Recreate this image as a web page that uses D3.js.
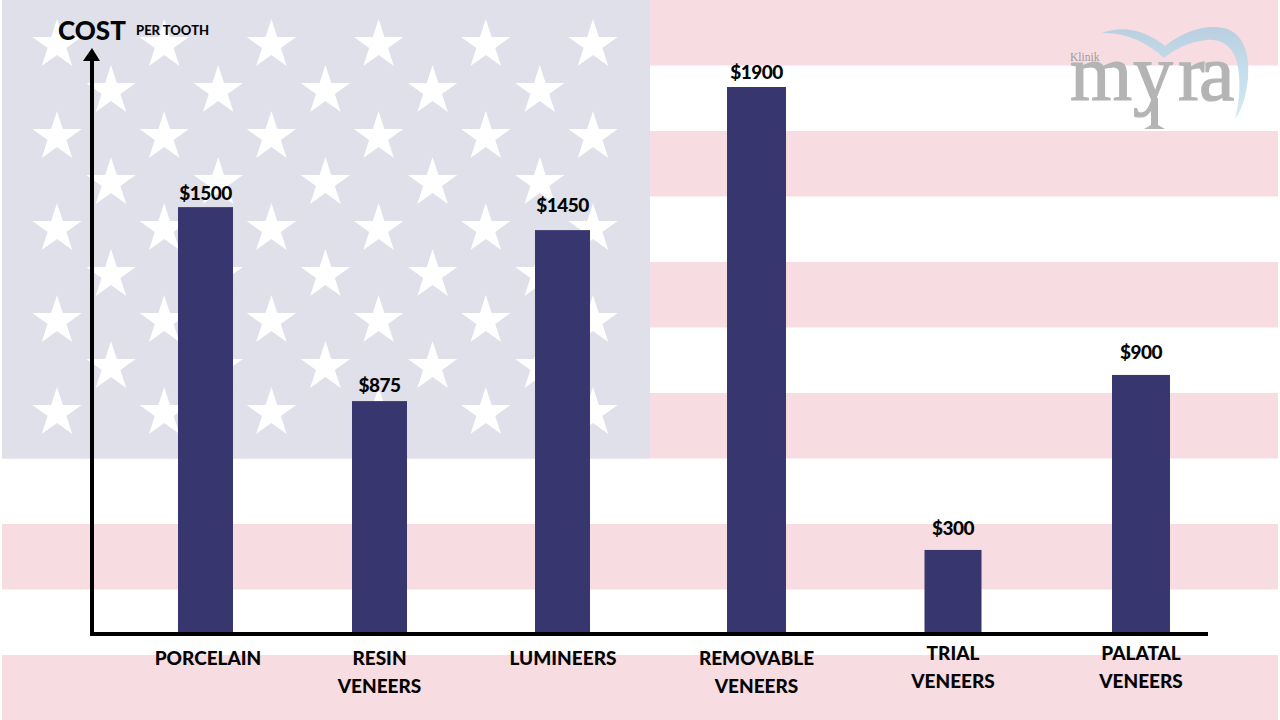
<!DOCTYPE html>
<html>
<head>
<meta charset="utf-8">
<script src="https://cdn.jsdelivr.net/npm/d3@7"></script>
<style>
  html, body { margin: 0; padding: 0; background: #fff; }
  svg { display: block; }
  text { font-family: "Lato", sans-serif; fill: #050505; }
</style>
</head>
<body>
<div id="chart"></div>
<script>
// Chart data
const categories = ["PORCELAIN", "RESIN VENEERS", "LUMINEERS", "REMOVABLE VENEERS", "TRIAL VENEERS", "PALATAL VENEERS"];
const costLabels = [1500, 875, 1450, 1900, 300, 900];
// the bars in the picture are not quite to scale, so this is what each one measures
const barHeights = [1482, 807, 1402, 1900, 289, 898];

const width = 1280;
const height = 720;

const svg = d3.select("#chart").append("svg")
    .attr("width", width)
    .attr("height", height);

// Scales, the spacing of the original is hand placed so the ranges are explicit
const x = d3.scaleOrdinal().domain(categories).range([205.5, 379.5, 562.5, 756.5, 953, 1141]);
const barWidth = d3.scaleOrdinal().domain(categories).range([55, 55, 55, 59, 57, 58]);
const valueGap = d3.scaleOrdinal().domain(categories).range([7, 9, 18, 8, 15, 16]);
const labelCenter = d3.scaleOrdinal().domain(categories).range([208, 379.5, 563, 756.5, 953, 1141]);
const labelTop = d3.scaleOrdinal().domain(categories).range([665, 665, 665, 665, 660, 660]);
const y = d3.scaleLinear().domain([0, 1900]).range([633, 87]);

// Flag background
const flag = svg.append("g");

flag.selectAll("rect.stripe")
    .data(d3.range(6))
    .join("rect")
    .attr("class", "stripe")
    .attr("x", 2)
    .attr("y", i => i * 131)
    .attr("width", 1276)
    .attr("height", 65.5)
    .attr("fill", "#f7dce1");

flag.append("rect")
    .attr("x", 2)
    .attr("y", 0)
    .attr("width", 648)
    .attr("height", 458.5)
    .attr("fill", "#dfe0e9");

const star = d3.symbol(d3.symbolStar, 759);
d3.range(9).forEach(row => {
    const odd = row % 2 === 1;
    flag.selectAll(null)
        .data(d3.range(odd ? 5 : 6))
        .join("path")
        .attr("d", star)
        .attr("fill", "#fff")
        .attr("transform", c => `translate(${(odd ? 111 : 57) + c * 107.2},${45 + row * 46})`);
});

// Logo
const logo = svg.append("g");
const fade = svg.append("defs").append("linearGradient")
    .attr("id", "logoFade")
    .attr("x1", 0).attr("y1", 0).attr("x2", 0).attr("y2", 1);
fade.append("stop").attr("offset", 0).attr("stop-color", "#b9cfe0");
fade.append("stop").attr("offset", 1).attr("stop-color", "#d3ecf6");

logo.append("path")
    .attr("d", "M1102,33 C1125,24 1148,32 1165,46 C1182,32 1205,24 1224,28 C1243,33 1250,52 1248,78 C1246,97 1242,110 1235,119 C1240,100 1241,80 1237,62 C1233,47 1222,38 1206,40 C1190,42 1176,48 1164,58 C1147,42 1125,32 1102,33 Z")
    .attr("fill", "url(#logoFade)");

logo.append("text")
    .attr("x", "1070 1133 1178 1199")
    .attr("y", 100)
    .style("font-family", "Liberation Serif")
    .style("font-size", "80px")
    .style("fill", "#b4b4b4")
    .style("stroke", "#b4b4b4")
    .style("stroke-width", "1.2px")
    .text("myra");

// straight stem of the logo's y
logo.append("path")
    .attr("d", "M1151,98 L1158,98 L1158,125 L1165,129 L1144,129 L1151,125 Z")
    .attr("fill", "#b4b4b4");

logo.append("text")
    .attr("x", 1070)
    .attr("y", 61)
    .style("font-family", "Liberation Serif")
    .style("font-size", "11.5px")
    .style("fill", "#9c9c9c")
    .text("Klinik");

// Bars
svg.selectAll("rect.bar")
    .data(categories)
    .join("rect")
    .attr("class", "bar")
    .attr("x", d => x(d) - barWidth(d) / 2)
    .attr("y", (d, i) => y(barHeights[i]))
    .attr("width", d => barWidth(d))
    .attr("height", (d, i) => y(0) - y(barHeights[i]))
    .attr("fill", "#37366f");

// Axes
svg.append("line")
    .attr("x1", 92).attr("x2", 92)
    .attr("y1", 58).attr("y2", y(0) + 3)
    .attr("stroke", "#000")
    .attr("stroke-width", 4);

svg.append("line")
    .attr("x1", 90).attr("x2", 1208)
    .attr("y1", y(0) + 1).attr("y2", y(0) + 1)
    .attr("stroke", "#000")
    .attr("stroke-width", 4);

svg.append("path")
    .attr("d", "M92,48 L100,61 L83,61 Z")
    .attr("fill", "#000");

svg.append("text")
    .attr("x", 58)
    .attr("y", 40)
    .style("font-size", "26px")
    .style("font-weight", 900)
    .text("COST");

svg.append("text")
    .attr("x", 136)
    .attr("y", 35)
    .style("font-size", "13px")
    .style("font-weight", 900)
    .text("PER TOOTH");

// Value labels
svg.selectAll("text.value")
    .data(categories)
    .join("text")
    .attr("class", "value")
    .attr("x", d => x(d))
    .attr("y", (d, i) => y(barHeights[i]) - valueGap(d))
    .attr("text-anchor", "middle")
    .style("font-size", "19px")
    .style("font-weight", 900)
    .style("letter-spacing", "-0.5px")
    .text((d, i) => `$${costLabels[i]}`);

// Category labels
const labels = svg.selectAll("text.category")
    .data(categories)
    .join("text")
    .attr("class", "category")
    .attr("text-anchor", "middle")
    .style("font-size", "19px")
    .style("font-weight", 900);

labels.each(function(d) {
    d.split(" ").forEach((word, i) => {
        d3.select(this).append("tspan")
            .attr("x", labelCenter(d))
            .attr("y", labelTop(d) + i * 28)
            .text(word);
    });
});
</script>
</body>
</html>
